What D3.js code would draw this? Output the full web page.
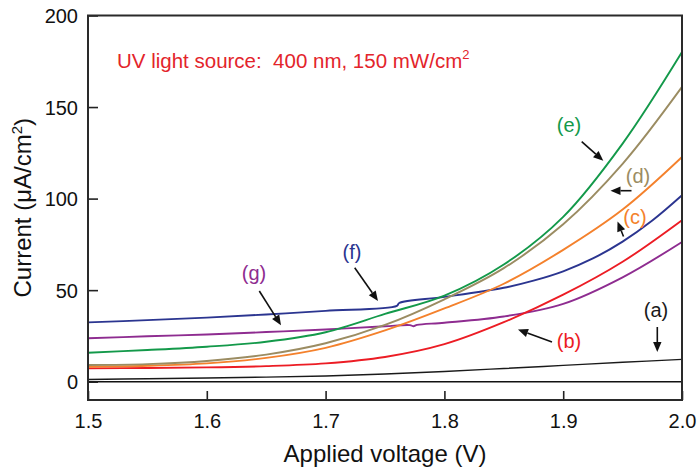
<!DOCTYPE html>
<html>
<head>
<meta charset="utf-8">
<script src="https://cdn.jsdelivr.net/npm/d3@7"></script>
<style>
  html, body { margin: 0; padding: 0; background: #fff; }
  svg { display: block; font-family: "Liberation Sans", Arial, Helvetica, sans-serif; }
</style>
</head>
<body>
<svg id="chart" width="698" height="472"></svg>
<script>
// ---- data ----
const voltage = [1.5, 1.55, 1.6, 1.65, 1.7, 1.75, 1.8, 1.85, 1.9, 1.95, 2.0];
const curveA = [1.2, 1.6, 2.0, 2.5, 3.1, 4.2, 5.6, 7.2, 8.9, 10.6, 12.2];
const curveB = [7.3, 7.5, 7.8, 8.5, 10.0, 13.5, 20.5, 32.5, 47.5, 65.5, 88.2];
const curveC = [8.2, 8.7, 10.0, 13.0, 18.5, 28, 40, 53.5, 72, 94, 122.7];
const curveD = [9.1, 9.6, 11.3, 14.8, 21, 31, 45, 62, 86, 119, 161];
const curveE = [15.8, 17.3, 19.1, 21.8, 27, 37, 47, 64, 90, 130, 180];
const voltageF = [1.5, 1.55, 1.6, 1.65, 1.7, 1.76, 1.762, 1.8, 1.85, 1.875, 1.9, 1.925, 1.95, 1.975, 2.0];
const curveF = [32.4, 33.6, 35.0, 36.7, 38.7, 41.4, 43.0, 46.3, 51.3, 55.2, 60.3, 67.3, 76.5, 88, 101.8];
const voltageG = [1.5, 1.55, 1.6, 1.65, 1.7, 1.75, 1.771, 1.774, 1.777, 1.8, 1.85, 1.9, 1.95, 2.0];
const curveG = [23.7, 24.8, 25.8, 27.1, 28.5, 30.3, 30.9, 30.3, 31.0, 32.2, 35.6, 42.5, 57, 76.3];
const seriesNames = ["(a)", "(b)", "(c)", "(d)", "(e)", "(f)", "(g)"];
const seriesColors = ["#1a1a1a", "#ec1c24", "#f4812c", "#9b8c62", "#13994a", "#2b3590", "#8e2c90"];
const xTicks = [1.5, 1.6, 1.7, 1.8, 1.9, 2.0];
const yTicks = [0, 50, 100, 150, 200];

// ---- layout ----
const svg = d3.select("#chart");
const L = 88, R = 682, T = 15.5, B = 400;
const x = d3.scaleLinear().domain([1.5, 2.0]).range([L, R]);
const y = d3.scaleLinear().domain([-10, 200]).range([B, T]);

const seriesX = [voltage, voltage, voltage, voltage, voltage, voltageF, voltageG];
const seriesY = [curveA, curveB, curveC, curveD, curveE, curveF, curveG];

const line = d3.line().x(d => x(d[0])).y(d => y(d[1])).curve(d3.curveCatmullRom.alpha(0.5));

// zero line
svg.append("line")
  .attr("x1", x(1.5)).attr("x2", x(2.0))
  .attr("y1", y(0)).attr("y2", y(0))
  .attr("stroke", "#111").attr("stroke-width", 1.6);

// curves
const drawOrder = [0, 6, 5, 1, 2, 3, 4];
drawOrder.forEach(k => {
  const pts = seriesX[k].map((v, i) => [v, seriesY[k][i]]);
  svg.append("path")
    .datum(pts)
    .attr("d", line)
    .attr("fill", "none")
    .attr("stroke", seriesColors[k])
    .attr("stroke-width", k === 0 ? 1.4 : 1.9);
});

// axes with inward ticks
const xAxis = d3.axisBottom(x).tickValues(xTicks).tickSize(-9).tickPadding(14)
  .tickFormat(d3.format(".1f"));
const yAxis = d3.axisLeft(y).tickValues(yTicks).tickSize(-10).tickPadding(10)
  .tickFormat(d3.format("d"));

const gx = svg.append("g").attr("transform", `translate(0,${B})`).call(xAxis);
const gy = svg.append("g").attr("transform", `translate(${L},0)`).call(yAxis);
[gx, gy].forEach(g => {
  g.select(".domain").remove();
  g.selectAll(".tick line").attr("stroke", "#222").attr("stroke-width", 1.6);
  g.selectAll(".tick text").attr("font-size", 20).attr("fill", "#111")
    .attr("font-family", "Liberation Sans, Arial, sans-serif");
});
gx.selectAll(".tick text").attr("dy", "0.71em");
gy.selectAll(".tick text").attr("dy", "0.36em");

// frame
svg.append("rect")
  .attr("x", L).attr("y", T).attr("width", R - L).attr("height", B - T)
  .attr("fill", "none").attr("stroke", "#2a2a2a").attr("stroke-width", 2);

// axis titles
svg.append("text")
  .attr("x", (L + R) / 2).attr("y", 462)
  .attr("text-anchor", "middle").attr("font-size", 24).attr("fill", "#111")
  .text("Applied voltage (V)");

const yt = svg.append("text")
  .attr("transform", `translate(31,${(T + B) / 2}) rotate(-90)`)
  .attr("text-anchor", "middle").attr("font-size", 24).attr("fill", "#111");
yt.append("tspan").text("Current (μA/cm");
yt.append("tspan").attr("font-size", 15).attr("dy", -9).text("2");
yt.append("tspan").attr("dy", 9).text(")");

// annotation
const ann = svg.append("text")
  .attr("x", 117).attr("y", 68)
  .attr("font-size", 20.5).attr("fill", "#e3242b")
  .attr("xml:space", "preserve");
ann.append("tspan").text("UV light source:  400 nm, 150 mW/cm");
ann.append("tspan").attr("font-size", 13).attr("dy", -9).text("2");

// labels
const labelPos = [[656, 310], [569, 341], [635, 217], [638, 176], [569, 125], [352, 252], [254, 273]];
labelPos.forEach((p, k) => {
  svg.append("text")
    .attr("x", p[0]).attr("y", p[1])
    .attr("text-anchor", "middle").attr("dy", "0.36em")
    .attr("font-size", 20).attr("fill", seriesColors[k])
    .text(seriesNames[k]);
});

// arrows [x1,y1,x2,y2] tail -> head
const arrows = [
  [657.3, 327, 657.3, 352],
  [552, 342, 518, 329.5],
  [623.5, 236.5, 617.5, 221.5],
  [631.5, 190.7, 610.5, 190.7],
  [581.7, 141.7, 603.3, 160.7],
  [354.7, 267.7, 378, 301],
  [259.3, 291, 281, 325.3]
];
arrows.forEach(a => {
  const [x1, y1, x2, y2] = a;
  const ang = Math.atan2(y2 - y1, x2 - x1);
  const hl = 10, hw = 4.2;
  const bx = x2 - hl * Math.cos(ang), by = y2 - hl * Math.sin(ang);
  svg.append("line")
    .attr("x1", x1).attr("y1", y1).attr("x2", bx).attr("y2", by)
    .attr("stroke", "#111").attr("stroke-width", 1.6);
  const px = -Math.sin(ang), py = Math.cos(ang);
  svg.append("path")
    .attr("d", `M${x2},${y2}L${bx + hw * px},${by + hw * py}L${bx - hw * px},${by - hw * py}Z`)
    .attr("fill", "#111");
});
</script>
</body>
</html>
